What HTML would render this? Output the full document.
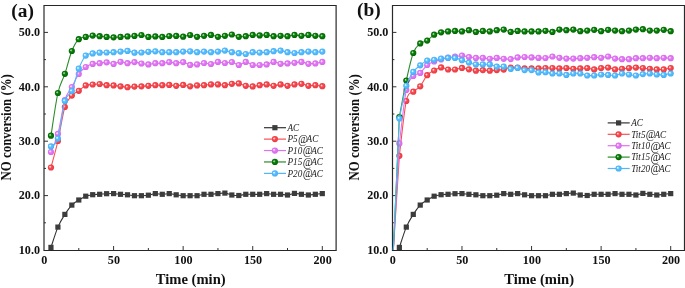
<!DOCTYPE html>
<html><head><meta charset="utf-8"><style>
html,body{margin:0;padding:0;background:#fff;}
body{width:685px;height:288px;overflow:hidden;}
svg{display:block;}
text{filter:grayscale(1);}
.tl{font-family:"Liberation Serif",serif;font-weight:bold;font-size:13.5px;fill:#111;}
.xt{font-family:"Liberation Serif",serif;font-weight:bold;font-size:14.6px;fill:#111;}
.yt{font-family:"Liberation Serif",serif;font-weight:bold;font-size:13.9px;fill:#111;}
.pl{font-family:"Liberation Serif",serif;font-weight:bold;font-size:19.4px;fill:#111;}
.lg{font-family:"Liberation Serif",serif;font-style:italic;font-size:10.5px;fill:#222;}
</style></head><body>
<svg width="685" height="288" viewBox="0 0 685 288">
<defs><radialGradient id="gr" cx="0.5" cy="0.5" r="0.5" fx="0.33" fy="0.35"><stop offset="0" stop-color="#ffdcdc"/><stop offset="0.12" stop-color="#ffdcdc"/><stop offset="0.42" stop-color="#f74c52"/><stop offset="1" stop-color="#ea3840"/></radialGradient><radialGradient id="gm" cx="0.5" cy="0.5" r="0.5" fx="0.33" fy="0.35"><stop offset="0" stop-color="#fbe4ff"/><stop offset="0.12" stop-color="#fbe4ff"/><stop offset="0.42" stop-color="#e47cf4"/><stop offset="1" stop-color="#d566ea"/></radialGradient><radialGradient id="gg" cx="0.5" cy="0.5" r="0.5" fx="0.33" fy="0.35"><stop offset="0" stop-color="#b0d8b0"/><stop offset="0.12" stop-color="#b0d8b0"/><stop offset="0.42" stop-color="#0b820b"/><stop offset="1" stop-color="#006400"/></radialGradient><radialGradient id="gb" cx="0.5" cy="0.5" r="0.5" fx="0.33" fy="0.35"><stop offset="0" stop-color="#e4f6ff"/><stop offset="0.12" stop-color="#e4f6ff"/><stop offset="0.42" stop-color="#5ec0fd"/><stop offset="1" stop-color="#42aef6"/></radialGradient></defs>
<clipPath id="ca"><rect x="44" y="5" width="292.2" height="245"/></clipPath>
<clipPath id="cb"><rect x="392.4" y="5" width="292.2" height="245"/></clipPath>
<line x1="78.79" y1="250.5" x2="78.79" y2="248" stroke="#333" stroke-width="1"/>
<line x1="113.58" y1="250.5" x2="113.58" y2="246" stroke="#333" stroke-width="1"/>
<line x1="148.36" y1="250.5" x2="148.36" y2="248" stroke="#333" stroke-width="1"/>
<line x1="183.15" y1="250.5" x2="183.15" y2="246" stroke="#333" stroke-width="1"/>
<line x1="217.94" y1="250.5" x2="217.94" y2="248" stroke="#333" stroke-width="1"/>
<line x1="252.72" y1="250.5" x2="252.72" y2="246" stroke="#333" stroke-width="1"/>
<line x1="287.51" y1="250.5" x2="287.51" y2="248" stroke="#333" stroke-width="1"/>
<line x1="322.30" y1="250.5" x2="322.30" y2="246" stroke="#333" stroke-width="1"/>
<line x1="44.0" y1="222.80" x2="46.0" y2="222.80" stroke="#333" stroke-width="1"/>
<line x1="44.0" y1="195.60" x2="48.0" y2="195.60" stroke="#333" stroke-width="1"/>
<line x1="44.0" y1="168.40" x2="46.0" y2="168.40" stroke="#333" stroke-width="1"/>
<line x1="44.0" y1="141.20" x2="48.0" y2="141.20" stroke="#333" stroke-width="1"/>
<line x1="44.0" y1="114.00" x2="46.0" y2="114.00" stroke="#333" stroke-width="1"/>
<line x1="44.0" y1="86.80" x2="48.0" y2="86.80" stroke="#333" stroke-width="1"/>
<line x1="44.0" y1="59.60" x2="46.0" y2="59.60" stroke="#333" stroke-width="1"/>
<line x1="44.0" y1="32.40" x2="48.0" y2="32.40" stroke="#333" stroke-width="1"/>
<path d="M44.00,5.5 H336.11 M44.00,250.5 H336.11" stroke="#262626" stroke-width="1.1" fill="none"/>
<path d="M44.00,5 V251 M336.11,5 V251" stroke="#2a2a2a" stroke-width="1.2" fill="none"/>
<text transform="translate(44.30,263.6) scale(0.9,1)" text-anchor="middle" class="tl">0</text>
<text transform="translate(113.88,263.6) scale(0.9,1)" text-anchor="middle" class="tl">50</text>
<text transform="translate(183.45,263.6) scale(0.9,1)" text-anchor="middle" class="tl">100</text>
<text transform="translate(253.03,263.6) scale(0.9,1)" text-anchor="middle" class="tl">150</text>
<text transform="translate(322.60,263.6) scale(0.9,1)" text-anchor="middle" class="tl">200</text>
<text transform="translate(40.00,253.80) scale(0.9,1)" text-anchor="end" class="tl">10.0</text>
<text transform="translate(40.00,199.40) scale(0.9,1)" text-anchor="end" class="tl">20.0</text>
<text transform="translate(40.00,145.00) scale(0.9,1)" text-anchor="end" class="tl">30.0</text>
<text transform="translate(40.00,90.60) scale(0.9,1)" text-anchor="end" class="tl">40.0</text>
<text transform="translate(40.00,36.20) scale(0.9,1)" text-anchor="end" class="tl">50.0</text>
<text x="190.71" y="283.5" text-anchor="middle" class="xt">Time (min)</text>
<text transform="translate(10.70,127.3) rotate(-90) scale(0.925,1)" text-anchor="middle" class="yt">NO conversion (%)</text>
<text transform="translate(22.60,17.20) scale(1,0.92)" text-anchor="middle" class="pl">(a)</text>
<g>
<path d="M50.96,247.40 C52.12,244.02 55.60,232.60 57.91,227.10 C60.23,221.60 62.55,218.07 64.87,214.40 C67.19,210.73 69.51,207.50 71.83,205.10 C74.15,202.70 76.47,201.48 78.79,200.00 C81.11,198.52 83.43,197.08 85.75,196.20 C88.06,195.32 90.38,195.02 92.70,194.70 C95.02,194.38 97.34,194.47 99.66,194.30 C101.98,194.13 104.30,193.82 106.62,193.70 C108.94,193.58 111.26,193.50 113.58,193.60 C115.89,193.70 118.21,194.10 120.53,194.30 C122.85,194.50 125.17,194.57 127.49,194.80 C129.81,195.03 132.13,195.55 134.45,195.70 C136.77,195.85 139.09,195.78 141.41,195.70 C143.72,195.62 146.04,195.55 148.36,195.20 C150.68,194.85 153.00,193.75 155.32,193.60 C157.64,193.45 159.96,194.30 162.28,194.30 C164.60,194.30 166.92,193.52 169.24,193.60 C171.55,193.68 173.87,194.45 176.19,194.80 C178.51,195.15 180.83,195.55 183.15,195.70 C185.47,195.85 187.79,195.70 190.11,195.70 C192.43,195.70 194.75,195.93 197.06,195.70 C199.38,195.47 201.70,194.53 204.02,194.30 C206.34,194.07 208.66,194.42 210.98,194.30 C213.30,194.18 215.62,193.80 217.94,193.60 C220.26,193.40 222.58,192.87 224.89,193.10 C227.21,193.33 229.53,194.60 231.85,195.00 C234.17,195.40 236.49,195.62 238.81,195.50 C241.13,195.38 243.45,194.50 245.77,194.30 C248.09,194.10 250.41,194.30 252.72,194.30 C255.04,194.30 257.36,194.42 259.68,194.30 C262.00,194.18 264.32,193.60 266.64,193.60 C268.96,193.60 271.28,194.18 273.60,194.30 C275.92,194.42 278.24,194.18 280.56,194.30 C282.87,194.42 285.19,195.15 287.51,195.00 C289.83,194.85 292.15,193.52 294.47,193.40 C296.79,193.28 299.11,194.03 301.43,194.30 C303.75,194.57 306.07,195.00 308.38,195.00 C310.70,195.00 313.02,194.53 315.34,194.30 C317.66,194.07 321.14,193.72 322.30,193.60" fill="none" stroke="#333333" stroke-width="1.1" stroke-linejoin="round"/>
<rect x="48.36" y="244.80" width="5.2" height="5.2" fill="#3c3c3c"/>
<rect x="55.31" y="224.50" width="5.2" height="5.2" fill="#3c3c3c"/>
<rect x="62.27" y="211.80" width="5.2" height="5.2" fill="#3c3c3c"/>
<rect x="69.23" y="202.50" width="5.2" height="5.2" fill="#3c3c3c"/>
<rect x="76.19" y="197.40" width="5.2" height="5.2" fill="#3c3c3c"/>
<rect x="83.15" y="193.60" width="5.2" height="5.2" fill="#3c3c3c"/>
<rect x="90.10" y="192.10" width="5.2" height="5.2" fill="#3c3c3c"/>
<rect x="97.06" y="191.70" width="5.2" height="5.2" fill="#3c3c3c"/>
<rect x="104.02" y="191.10" width="5.2" height="5.2" fill="#3c3c3c"/>
<rect x="110.98" y="191.00" width="5.2" height="5.2" fill="#3c3c3c"/>
<rect x="117.93" y="191.70" width="5.2" height="5.2" fill="#3c3c3c"/>
<rect x="124.89" y="192.20" width="5.2" height="5.2" fill="#3c3c3c"/>
<rect x="131.85" y="193.10" width="5.2" height="5.2" fill="#3c3c3c"/>
<rect x="138.81" y="193.10" width="5.2" height="5.2" fill="#3c3c3c"/>
<rect x="145.76" y="192.60" width="5.2" height="5.2" fill="#3c3c3c"/>
<rect x="152.72" y="191.00" width="5.2" height="5.2" fill="#3c3c3c"/>
<rect x="159.68" y="191.70" width="5.2" height="5.2" fill="#3c3c3c"/>
<rect x="166.64" y="191.00" width="5.2" height="5.2" fill="#3c3c3c"/>
<rect x="173.59" y="192.20" width="5.2" height="5.2" fill="#3c3c3c"/>
<rect x="180.55" y="193.10" width="5.2" height="5.2" fill="#3c3c3c"/>
<rect x="187.51" y="193.10" width="5.2" height="5.2" fill="#3c3c3c"/>
<rect x="194.47" y="193.10" width="5.2" height="5.2" fill="#3c3c3c"/>
<rect x="201.42" y="191.70" width="5.2" height="5.2" fill="#3c3c3c"/>
<rect x="208.38" y="191.70" width="5.2" height="5.2" fill="#3c3c3c"/>
<rect x="215.34" y="191.00" width="5.2" height="5.2" fill="#3c3c3c"/>
<rect x="222.29" y="190.50" width="5.2" height="5.2" fill="#3c3c3c"/>
<rect x="229.25" y="192.40" width="5.2" height="5.2" fill="#3c3c3c"/>
<rect x="236.21" y="192.90" width="5.2" height="5.2" fill="#3c3c3c"/>
<rect x="243.17" y="191.70" width="5.2" height="5.2" fill="#3c3c3c"/>
<rect x="250.12" y="191.70" width="5.2" height="5.2" fill="#3c3c3c"/>
<rect x="257.08" y="191.70" width="5.2" height="5.2" fill="#3c3c3c"/>
<rect x="264.04" y="191.00" width="5.2" height="5.2" fill="#3c3c3c"/>
<rect x="271.00" y="191.70" width="5.2" height="5.2" fill="#3c3c3c"/>
<rect x="277.95" y="191.70" width="5.2" height="5.2" fill="#3c3c3c"/>
<rect x="284.91" y="192.40" width="5.2" height="5.2" fill="#3c3c3c"/>
<rect x="291.87" y="190.80" width="5.2" height="5.2" fill="#3c3c3c"/>
<rect x="298.83" y="191.70" width="5.2" height="5.2" fill="#3c3c3c"/>
<rect x="305.78" y="192.40" width="5.2" height="5.2" fill="#3c3c3c"/>
<rect x="312.74" y="191.70" width="5.2" height="5.2" fill="#3c3c3c"/>
<rect x="319.70" y="191.00" width="5.2" height="5.2" fill="#3c3c3c"/>
<path d="M50.96,167.50 C52.12,163.08 55.60,151.08 57.91,141.00 C60.23,130.92 62.55,114.57 64.87,107.00 C67.19,99.43 69.51,98.30 71.83,95.60 C74.15,92.90 76.47,92.50 78.79,90.80 C81.11,89.10 83.43,86.45 85.75,85.40 C88.06,84.35 90.38,84.73 92.70,84.50 C95.02,84.27 97.34,83.88 99.66,84.00 C101.98,84.12 104.30,84.97 106.62,85.20 C108.94,85.43 111.26,85.22 113.58,85.40 C115.89,85.58 118.21,86.00 120.53,86.30 C122.85,86.60 125.17,87.15 127.49,87.20 C129.81,87.25 132.13,86.75 134.45,86.60 C136.77,86.45 139.09,86.43 141.41,86.30 C143.72,86.17 146.04,85.98 148.36,85.80 C150.68,85.62 153.00,85.30 155.32,85.20 C157.64,85.10 159.96,85.25 162.28,85.20 C164.60,85.15 166.92,84.80 169.24,84.90 C171.55,85.00 173.87,85.80 176.19,85.80 C178.51,85.80 180.83,84.82 183.15,84.90 C185.47,84.98 187.79,86.22 190.11,86.30 C192.43,86.38 194.75,85.58 197.06,85.40 C199.38,85.22 201.70,85.37 204.02,85.20 C206.34,85.03 208.66,84.53 210.98,84.40 C213.30,84.27 215.62,84.27 217.94,84.40 C220.26,84.53 222.58,85.30 224.89,85.20 C227.21,85.10 229.53,84.10 231.85,83.80 C234.17,83.50 236.49,83.07 238.81,83.40 C241.13,83.73 243.45,85.30 245.77,85.80 C248.09,86.30 250.41,86.50 252.72,86.40 C255.04,86.30 257.36,85.53 259.68,85.20 C262.00,84.87 264.32,84.30 266.64,84.40 C268.96,84.50 271.28,85.80 273.60,85.80 C275.92,85.80 278.24,84.40 280.56,84.40 C282.87,84.40 285.19,85.80 287.51,85.80 C289.83,85.80 292.15,84.73 294.47,84.40 C296.79,84.07 299.11,83.57 301.43,83.80 C303.75,84.03 306.07,85.57 308.38,85.80 C310.70,86.03 313.02,85.13 315.34,85.20 C317.66,85.27 321.14,86.03 322.30,86.20" fill="none" stroke="#fb4e50" stroke-width="1.1" stroke-linejoin="round"/>
<circle cx="50.96" cy="167.50" r="3.1" fill="url(#gr)"/>
<circle cx="57.91" cy="141.00" r="3.1" fill="url(#gr)"/>
<circle cx="64.87" cy="107.00" r="3.1" fill="url(#gr)"/>
<circle cx="71.83" cy="95.60" r="3.1" fill="url(#gr)"/>
<circle cx="78.79" cy="90.80" r="3.1" fill="url(#gr)"/>
<circle cx="85.75" cy="85.40" r="3.1" fill="url(#gr)"/>
<circle cx="92.70" cy="84.50" r="3.1" fill="url(#gr)"/>
<circle cx="99.66" cy="84.00" r="3.1" fill="url(#gr)"/>
<circle cx="106.62" cy="85.20" r="3.1" fill="url(#gr)"/>
<circle cx="113.58" cy="85.40" r="3.1" fill="url(#gr)"/>
<circle cx="120.53" cy="86.30" r="3.1" fill="url(#gr)"/>
<circle cx="127.49" cy="87.20" r="3.1" fill="url(#gr)"/>
<circle cx="134.45" cy="86.60" r="3.1" fill="url(#gr)"/>
<circle cx="141.41" cy="86.30" r="3.1" fill="url(#gr)"/>
<circle cx="148.36" cy="85.80" r="3.1" fill="url(#gr)"/>
<circle cx="155.32" cy="85.20" r="3.1" fill="url(#gr)"/>
<circle cx="162.28" cy="85.20" r="3.1" fill="url(#gr)"/>
<circle cx="169.24" cy="84.90" r="3.1" fill="url(#gr)"/>
<circle cx="176.19" cy="85.80" r="3.1" fill="url(#gr)"/>
<circle cx="183.15" cy="84.90" r="3.1" fill="url(#gr)"/>
<circle cx="190.11" cy="86.30" r="3.1" fill="url(#gr)"/>
<circle cx="197.06" cy="85.40" r="3.1" fill="url(#gr)"/>
<circle cx="204.02" cy="85.20" r="3.1" fill="url(#gr)"/>
<circle cx="210.98" cy="84.40" r="3.1" fill="url(#gr)"/>
<circle cx="217.94" cy="84.40" r="3.1" fill="url(#gr)"/>
<circle cx="224.89" cy="85.20" r="3.1" fill="url(#gr)"/>
<circle cx="231.85" cy="83.80" r="3.1" fill="url(#gr)"/>
<circle cx="238.81" cy="83.40" r="3.1" fill="url(#gr)"/>
<circle cx="245.77" cy="85.80" r="3.1" fill="url(#gr)"/>
<circle cx="252.72" cy="86.40" r="3.1" fill="url(#gr)"/>
<circle cx="259.68" cy="85.20" r="3.1" fill="url(#gr)"/>
<circle cx="266.64" cy="84.40" r="3.1" fill="url(#gr)"/>
<circle cx="273.60" cy="85.80" r="3.1" fill="url(#gr)"/>
<circle cx="280.56" cy="84.40" r="3.1" fill="url(#gr)"/>
<circle cx="287.51" cy="85.80" r="3.1" fill="url(#gr)"/>
<circle cx="294.47" cy="84.40" r="3.1" fill="url(#gr)"/>
<circle cx="301.43" cy="83.80" r="3.1" fill="url(#gr)"/>
<circle cx="308.38" cy="85.80" r="3.1" fill="url(#gr)"/>
<circle cx="315.34" cy="85.20" r="3.1" fill="url(#gr)"/>
<circle cx="322.30" cy="86.20" r="3.1" fill="url(#gr)"/>
<path d="M50.96,152.00 C52.12,148.98 55.60,142.57 57.91,133.90 C60.23,125.23 62.55,107.82 64.87,100.00 C67.19,92.18 69.51,91.33 71.83,87.00 C74.15,82.67 76.47,77.33 78.79,74.00 C81.11,70.67 83.43,68.68 85.75,67.00 C88.06,65.32 90.38,64.53 92.70,63.90 C95.02,63.27 97.34,63.47 99.66,63.20 C101.98,62.93 104.30,62.18 106.62,62.30 C108.94,62.42 111.26,63.98 113.58,63.90 C115.89,63.82 118.21,61.92 120.53,61.80 C122.85,61.68 125.17,63.15 127.49,63.20 C129.81,63.25 132.13,62.05 134.45,62.10 C136.77,62.15 139.09,63.12 141.41,63.50 C143.72,63.88 146.04,64.45 148.36,64.40 C150.68,64.35 153.00,63.40 155.32,63.20 C157.64,63.00 159.96,63.38 162.28,63.20 C164.60,63.02 166.92,62.10 169.24,62.10 C171.55,62.10 173.87,63.20 176.19,63.20 C178.51,63.20 180.83,61.82 183.15,62.10 C185.47,62.38 187.79,64.52 190.11,64.90 C192.43,65.28 194.75,64.72 197.06,64.40 C199.38,64.08 201.70,63.07 204.02,63.00 C206.34,62.93 208.66,64.18 210.98,64.00 C213.30,63.82 215.62,62.07 217.94,61.90 C220.26,61.73 222.58,62.98 224.89,63.00 C227.21,63.02 229.53,61.67 231.85,62.00 C234.17,62.33 236.49,65.02 238.81,65.00 C241.13,64.98 243.45,61.90 245.77,61.90 C248.09,61.90 250.41,64.48 252.72,65.00 C255.04,65.52 257.36,65.10 259.68,65.00 C262.00,64.90 264.32,64.92 266.64,64.40 C268.96,63.88 271.28,62.00 273.60,61.90 C275.92,61.80 278.24,63.55 280.56,63.80 C282.87,64.05 285.19,63.57 287.51,63.40 C289.83,63.23 292.15,63.05 294.47,62.80 C296.79,62.55 299.11,61.73 301.43,61.90 C303.75,62.07 306.07,63.55 308.38,63.80 C310.70,64.05 313.02,63.72 315.34,63.40 C317.66,63.08 321.14,62.15 322.30,61.90" fill="none" stroke="#e070f2" stroke-width="1.1" stroke-linejoin="round"/>
<circle cx="50.96" cy="152.00" r="3.1" fill="url(#gm)"/>
<circle cx="57.91" cy="133.90" r="3.1" fill="url(#gm)"/>
<circle cx="64.87" cy="100.00" r="3.1" fill="url(#gm)"/>
<circle cx="71.83" cy="87.00" r="3.1" fill="url(#gm)"/>
<circle cx="78.79" cy="74.00" r="3.1" fill="url(#gm)"/>
<circle cx="85.75" cy="67.00" r="3.1" fill="url(#gm)"/>
<circle cx="92.70" cy="63.90" r="3.1" fill="url(#gm)"/>
<circle cx="99.66" cy="63.20" r="3.1" fill="url(#gm)"/>
<circle cx="106.62" cy="62.30" r="3.1" fill="url(#gm)"/>
<circle cx="113.58" cy="63.90" r="3.1" fill="url(#gm)"/>
<circle cx="120.53" cy="61.80" r="3.1" fill="url(#gm)"/>
<circle cx="127.49" cy="63.20" r="3.1" fill="url(#gm)"/>
<circle cx="134.45" cy="62.10" r="3.1" fill="url(#gm)"/>
<circle cx="141.41" cy="63.50" r="3.1" fill="url(#gm)"/>
<circle cx="148.36" cy="64.40" r="3.1" fill="url(#gm)"/>
<circle cx="155.32" cy="63.20" r="3.1" fill="url(#gm)"/>
<circle cx="162.28" cy="63.20" r="3.1" fill="url(#gm)"/>
<circle cx="169.24" cy="62.10" r="3.1" fill="url(#gm)"/>
<circle cx="176.19" cy="63.20" r="3.1" fill="url(#gm)"/>
<circle cx="183.15" cy="62.10" r="3.1" fill="url(#gm)"/>
<circle cx="190.11" cy="64.90" r="3.1" fill="url(#gm)"/>
<circle cx="197.06" cy="64.40" r="3.1" fill="url(#gm)"/>
<circle cx="204.02" cy="63.00" r="3.1" fill="url(#gm)"/>
<circle cx="210.98" cy="64.00" r="3.1" fill="url(#gm)"/>
<circle cx="217.94" cy="61.90" r="3.1" fill="url(#gm)"/>
<circle cx="224.89" cy="63.00" r="3.1" fill="url(#gm)"/>
<circle cx="231.85" cy="62.00" r="3.1" fill="url(#gm)"/>
<circle cx="238.81" cy="65.00" r="3.1" fill="url(#gm)"/>
<circle cx="245.77" cy="61.90" r="3.1" fill="url(#gm)"/>
<circle cx="252.72" cy="65.00" r="3.1" fill="url(#gm)"/>
<circle cx="259.68" cy="65.00" r="3.1" fill="url(#gm)"/>
<circle cx="266.64" cy="64.40" r="3.1" fill="url(#gm)"/>
<circle cx="273.60" cy="61.90" r="3.1" fill="url(#gm)"/>
<circle cx="280.56" cy="63.80" r="3.1" fill="url(#gm)"/>
<circle cx="287.51" cy="63.40" r="3.1" fill="url(#gm)"/>
<circle cx="294.47" cy="62.80" r="3.1" fill="url(#gm)"/>
<circle cx="301.43" cy="61.90" r="3.1" fill="url(#gm)"/>
<circle cx="308.38" cy="63.80" r="3.1" fill="url(#gm)"/>
<circle cx="315.34" cy="63.40" r="3.1" fill="url(#gm)"/>
<circle cx="322.30" cy="61.90" r="3.1" fill="url(#gm)"/>
<path d="M50.96,135.70 C52.12,128.58 55.60,103.32 57.91,93.00 C60.23,82.68 62.55,80.80 64.87,73.80 C67.19,66.80 69.51,56.77 71.83,51.00 C74.15,45.23 76.47,41.55 78.79,39.20 C81.11,36.85 83.43,37.50 85.75,36.90 C88.06,36.30 90.38,35.72 92.70,35.60 C95.02,35.48 97.34,35.98 99.66,36.20 C101.98,36.42 104.30,36.72 106.62,36.90 C108.94,37.08 111.26,37.30 113.58,37.30 C115.89,37.30 118.21,37.05 120.53,36.90 C122.85,36.75 125.17,36.57 127.49,36.40 C129.81,36.23 132.13,36.13 134.45,35.90 C136.77,35.67 139.09,34.83 141.41,35.00 C143.72,35.17 146.04,36.67 148.36,36.90 C150.68,37.13 153.00,36.40 155.32,36.40 C157.64,36.40 159.96,36.97 162.28,36.90 C164.60,36.83 166.92,36.17 169.24,36.00 C171.55,35.83 173.87,35.78 176.19,35.90 C178.51,36.02 180.83,36.85 183.15,36.70 C185.47,36.55 187.79,34.98 190.11,35.00 C192.43,35.02 194.75,36.67 197.06,36.80 C199.38,36.93 201.70,36.12 204.02,35.80 C206.34,35.48 208.66,34.73 210.98,34.90 C213.30,35.07 215.62,36.65 217.94,36.80 C220.26,36.95 222.58,36.18 224.89,35.80 C227.21,35.42 229.53,34.33 231.85,34.50 C234.17,34.67 236.49,36.52 238.81,36.80 C241.13,37.08 243.45,36.52 245.77,36.20 C248.09,35.88 250.41,35.03 252.72,34.90 C255.04,34.77 257.36,35.40 259.68,35.40 C262.00,35.40 264.32,34.77 266.64,34.90 C268.96,35.03 271.28,36.05 273.60,36.20 C275.92,36.35 278.24,35.80 280.56,35.80 C282.87,35.80 285.19,36.35 287.51,36.20 C289.83,36.05 292.15,34.97 294.47,34.90 C296.79,34.83 299.11,35.80 301.43,35.80 C303.75,35.80 306.07,34.90 308.38,34.90 C310.70,34.90 313.02,35.58 315.34,35.80 C317.66,36.02 321.14,36.13 322.30,36.20" fill="none" stroke="#2a8c2a" stroke-width="1.1" stroke-linejoin="round"/>
<circle cx="50.96" cy="135.70" r="3.1" fill="url(#gg)"/>
<circle cx="57.91" cy="93.00" r="3.1" fill="url(#gg)"/>
<circle cx="64.87" cy="73.80" r="3.1" fill="url(#gg)"/>
<circle cx="71.83" cy="51.00" r="3.1" fill="url(#gg)"/>
<circle cx="78.79" cy="39.20" r="3.1" fill="url(#gg)"/>
<circle cx="85.75" cy="36.90" r="3.1" fill="url(#gg)"/>
<circle cx="92.70" cy="35.60" r="3.1" fill="url(#gg)"/>
<circle cx="99.66" cy="36.20" r="3.1" fill="url(#gg)"/>
<circle cx="106.62" cy="36.90" r="3.1" fill="url(#gg)"/>
<circle cx="113.58" cy="37.30" r="3.1" fill="url(#gg)"/>
<circle cx="120.53" cy="36.90" r="3.1" fill="url(#gg)"/>
<circle cx="127.49" cy="36.40" r="3.1" fill="url(#gg)"/>
<circle cx="134.45" cy="35.90" r="3.1" fill="url(#gg)"/>
<circle cx="141.41" cy="35.00" r="3.1" fill="url(#gg)"/>
<circle cx="148.36" cy="36.90" r="3.1" fill="url(#gg)"/>
<circle cx="155.32" cy="36.40" r="3.1" fill="url(#gg)"/>
<circle cx="162.28" cy="36.90" r="3.1" fill="url(#gg)"/>
<circle cx="169.24" cy="36.00" r="3.1" fill="url(#gg)"/>
<circle cx="176.19" cy="35.90" r="3.1" fill="url(#gg)"/>
<circle cx="183.15" cy="36.70" r="3.1" fill="url(#gg)"/>
<circle cx="190.11" cy="35.00" r="3.1" fill="url(#gg)"/>
<circle cx="197.06" cy="36.80" r="3.1" fill="url(#gg)"/>
<circle cx="204.02" cy="35.80" r="3.1" fill="url(#gg)"/>
<circle cx="210.98" cy="34.90" r="3.1" fill="url(#gg)"/>
<circle cx="217.94" cy="36.80" r="3.1" fill="url(#gg)"/>
<circle cx="224.89" cy="35.80" r="3.1" fill="url(#gg)"/>
<circle cx="231.85" cy="34.50" r="3.1" fill="url(#gg)"/>
<circle cx="238.81" cy="36.80" r="3.1" fill="url(#gg)"/>
<circle cx="245.77" cy="36.20" r="3.1" fill="url(#gg)"/>
<circle cx="252.72" cy="34.90" r="3.1" fill="url(#gg)"/>
<circle cx="259.68" cy="35.40" r="3.1" fill="url(#gg)"/>
<circle cx="266.64" cy="34.90" r="3.1" fill="url(#gg)"/>
<circle cx="273.60" cy="36.20" r="3.1" fill="url(#gg)"/>
<circle cx="280.56" cy="35.80" r="3.1" fill="url(#gg)"/>
<circle cx="287.51" cy="36.20" r="3.1" fill="url(#gg)"/>
<circle cx="294.47" cy="34.90" r="3.1" fill="url(#gg)"/>
<circle cx="301.43" cy="35.80" r="3.1" fill="url(#gg)"/>
<circle cx="308.38" cy="34.90" r="3.1" fill="url(#gg)"/>
<circle cx="315.34" cy="35.80" r="3.1" fill="url(#gg)"/>
<circle cx="322.30" cy="36.20" r="3.1" fill="url(#gg)"/>
<path d="M50.96,146.40 C52.12,145.08 55.60,146.08 57.91,138.50 C60.23,130.92 62.55,108.82 64.87,100.90 C67.19,92.98 69.51,96.37 71.83,91.00 C74.15,85.63 76.47,74.60 78.79,68.70 C81.11,62.80 83.43,58.15 85.75,55.60 C88.06,53.05 90.38,53.88 92.70,53.40 C95.02,52.92 97.34,52.85 99.66,52.70 C101.98,52.55 104.30,52.58 106.62,52.50 C108.94,52.42 111.26,52.35 113.58,52.20 C115.89,52.05 118.21,51.82 120.53,51.60 C122.85,51.38 125.17,50.72 127.49,50.90 C129.81,51.08 132.13,52.43 134.45,52.70 C136.77,52.97 139.09,52.65 141.41,52.50 C143.72,52.35 146.04,52.00 148.36,51.80 C150.68,51.60 153.00,51.23 155.32,51.30 C157.64,51.37 159.96,52.05 162.28,52.20 C164.60,52.35 166.92,52.20 169.24,52.20 C171.55,52.20 173.87,52.30 176.19,52.20 C178.51,52.10 180.83,51.75 183.15,51.60 C185.47,51.45 187.79,51.20 190.11,51.30 C192.43,51.40 194.75,52.15 197.06,52.20 C199.38,52.25 201.70,51.60 204.02,51.60 C206.34,51.60 208.66,52.20 210.98,52.20 C213.30,52.20 215.62,51.87 217.94,51.60 C220.26,51.33 222.58,50.50 224.89,50.60 C227.21,50.70 229.53,51.77 231.85,52.20 C234.17,52.63 236.49,52.90 238.81,53.20 C241.13,53.50 243.45,54.17 245.77,54.00 C248.09,53.83 250.41,52.43 252.72,52.20 C255.04,51.97 257.36,52.60 259.68,52.60 C262.00,52.60 264.32,52.43 266.64,52.20 C268.96,51.97 271.28,51.47 273.60,51.20 C275.92,50.93 278.24,50.43 280.56,50.60 C282.87,50.77 285.19,51.80 287.51,52.20 C289.83,52.60 292.15,53.00 294.47,53.00 C296.79,53.00 299.11,52.43 301.43,52.20 C303.75,51.97 306.07,51.60 308.38,51.60 C310.70,51.60 313.02,52.20 315.34,52.20 C317.66,52.20 321.14,51.70 322.30,51.60" fill="none" stroke="#50b8fa" stroke-width="1.1" stroke-linejoin="round"/>
<circle cx="50.96" cy="146.40" r="3.1" fill="url(#gb)"/>
<circle cx="57.91" cy="138.50" r="3.1" fill="url(#gb)"/>
<circle cx="64.87" cy="100.90" r="3.1" fill="url(#gb)"/>
<circle cx="71.83" cy="91.00" r="3.1" fill="url(#gb)"/>
<circle cx="78.79" cy="68.70" r="3.1" fill="url(#gb)"/>
<circle cx="85.75" cy="55.60" r="3.1" fill="url(#gb)"/>
<circle cx="92.70" cy="53.40" r="3.1" fill="url(#gb)"/>
<circle cx="99.66" cy="52.70" r="3.1" fill="url(#gb)"/>
<circle cx="106.62" cy="52.50" r="3.1" fill="url(#gb)"/>
<circle cx="113.58" cy="52.20" r="3.1" fill="url(#gb)"/>
<circle cx="120.53" cy="51.60" r="3.1" fill="url(#gb)"/>
<circle cx="127.49" cy="50.90" r="3.1" fill="url(#gb)"/>
<circle cx="134.45" cy="52.70" r="3.1" fill="url(#gb)"/>
<circle cx="141.41" cy="52.50" r="3.1" fill="url(#gb)"/>
<circle cx="148.36" cy="51.80" r="3.1" fill="url(#gb)"/>
<circle cx="155.32" cy="51.30" r="3.1" fill="url(#gb)"/>
<circle cx="162.28" cy="52.20" r="3.1" fill="url(#gb)"/>
<circle cx="169.24" cy="52.20" r="3.1" fill="url(#gb)"/>
<circle cx="176.19" cy="52.20" r="3.1" fill="url(#gb)"/>
<circle cx="183.15" cy="51.60" r="3.1" fill="url(#gb)"/>
<circle cx="190.11" cy="51.30" r="3.1" fill="url(#gb)"/>
<circle cx="197.06" cy="52.20" r="3.1" fill="url(#gb)"/>
<circle cx="204.02" cy="51.60" r="3.1" fill="url(#gb)"/>
<circle cx="210.98" cy="52.20" r="3.1" fill="url(#gb)"/>
<circle cx="217.94" cy="51.60" r="3.1" fill="url(#gb)"/>
<circle cx="224.89" cy="50.60" r="3.1" fill="url(#gb)"/>
<circle cx="231.85" cy="52.20" r="3.1" fill="url(#gb)"/>
<circle cx="238.81" cy="53.20" r="3.1" fill="url(#gb)"/>
<circle cx="245.77" cy="54.00" r="3.1" fill="url(#gb)"/>
<circle cx="252.72" cy="52.20" r="3.1" fill="url(#gb)"/>
<circle cx="259.68" cy="52.60" r="3.1" fill="url(#gb)"/>
<circle cx="266.64" cy="52.20" r="3.1" fill="url(#gb)"/>
<circle cx="273.60" cy="51.20" r="3.1" fill="url(#gb)"/>
<circle cx="280.56" cy="50.60" r="3.1" fill="url(#gb)"/>
<circle cx="287.51" cy="52.20" r="3.1" fill="url(#gb)"/>
<circle cx="294.47" cy="53.00" r="3.1" fill="url(#gb)"/>
<circle cx="301.43" cy="52.20" r="3.1" fill="url(#gb)"/>
<circle cx="308.38" cy="51.60" r="3.1" fill="url(#gb)"/>
<circle cx="315.34" cy="52.20" r="3.1" fill="url(#gb)"/>
<circle cx="322.30" cy="51.60" r="3.1" fill="url(#gb)"/>
</g>
<line x1="264.00" y1="127.70" x2="286.00" y2="127.70" stroke="#333333" stroke-width="1.2"/>
<rect x="272.30" y="125.10" width="5.2" height="5.2" fill="#3c3c3c"/>
<text transform="translate(287.50,131.00) scale(0.875,1)" class="lg">AC</text>
<line x1="264.00" y1="139.12" x2="286.00" y2="139.12" stroke="#fb4e50" stroke-width="1.2"/>
<circle cx="274.90" cy="139.12" r="3.1" fill="url(#gr)"/>
<text transform="translate(287.50,142.42) scale(0.875,1)" class="lg">P5<tspan font-size="12.3" dy="0.5" dx="0.4">@</tspan><tspan dy="-0.5" dx="-1.5">AC</tspan></text>
<line x1="264.00" y1="150.54" x2="286.00" y2="150.54" stroke="#e070f2" stroke-width="1.2"/>
<circle cx="274.90" cy="150.54" r="3.1" fill="url(#gm)"/>
<text transform="translate(287.50,153.84) scale(0.875,1)" class="lg">P10<tspan font-size="12.3" dy="0.5" dx="0.4">@</tspan><tspan dy="-0.5" dx="-1.5">AC</tspan></text>
<line x1="264.00" y1="161.96" x2="286.00" y2="161.96" stroke="#2a8c2a" stroke-width="1.2"/>
<circle cx="274.90" cy="161.96" r="3.1" fill="url(#gg)"/>
<text transform="translate(287.50,165.26) scale(0.875,1)" class="lg">P15<tspan font-size="12.3" dy="0.5" dx="0.4">@</tspan><tspan dy="-0.5" dx="-1.5">AC</tspan></text>
<line x1="264.00" y1="173.38" x2="286.00" y2="173.38" stroke="#50b8fa" stroke-width="1.2"/>
<circle cx="274.90" cy="173.38" r="3.1" fill="url(#gb)"/>
<text transform="translate(287.50,176.68) scale(0.875,1)" class="lg">P20<tspan font-size="12.3" dy="0.5" dx="0.4">@</tspan><tspan dy="-0.5" dx="-1.5">AC</tspan></text>
<line x1="427.19" y1="250.5" x2="427.19" y2="248" stroke="#333" stroke-width="1"/>
<line x1="461.97" y1="250.5" x2="461.97" y2="246" stroke="#333" stroke-width="1"/>
<line x1="496.76" y1="250.5" x2="496.76" y2="248" stroke="#333" stroke-width="1"/>
<line x1="531.55" y1="250.5" x2="531.55" y2="246" stroke="#333" stroke-width="1"/>
<line x1="566.34" y1="250.5" x2="566.34" y2="248" stroke="#333" stroke-width="1"/>
<line x1="601.12" y1="250.5" x2="601.12" y2="246" stroke="#333" stroke-width="1"/>
<line x1="635.91" y1="250.5" x2="635.91" y2="248" stroke="#333" stroke-width="1"/>
<line x1="670.70" y1="250.5" x2="670.70" y2="246" stroke="#333" stroke-width="1"/>
<line x1="392.4" y1="222.80" x2="394.4" y2="222.80" stroke="#333" stroke-width="1"/>
<line x1="392.4" y1="195.60" x2="396.4" y2="195.60" stroke="#333" stroke-width="1"/>
<line x1="392.4" y1="168.40" x2="394.4" y2="168.40" stroke="#333" stroke-width="1"/>
<line x1="392.4" y1="141.20" x2="396.4" y2="141.20" stroke="#333" stroke-width="1"/>
<line x1="392.4" y1="114.00" x2="394.4" y2="114.00" stroke="#333" stroke-width="1"/>
<line x1="392.4" y1="86.80" x2="396.4" y2="86.80" stroke="#333" stroke-width="1"/>
<line x1="392.4" y1="59.60" x2="394.4" y2="59.60" stroke="#333" stroke-width="1"/>
<line x1="392.4" y1="32.40" x2="396.4" y2="32.40" stroke="#333" stroke-width="1"/>
<path d="M392.50,5.5 H684.50 M392.50,250.5 H684.50" stroke="#262626" stroke-width="1.1" fill="none"/>
<path d="M392.50,5 V251 M684.50,5 V251" stroke="#2a2a2a" stroke-width="1.2" fill="none"/>
<text transform="translate(392.70,263.6) scale(0.9,1)" text-anchor="middle" class="tl">0</text>
<text transform="translate(462.27,263.6) scale(0.9,1)" text-anchor="middle" class="tl">50</text>
<text transform="translate(531.85,263.6) scale(0.9,1)" text-anchor="middle" class="tl">100</text>
<text transform="translate(601.42,263.6) scale(0.9,1)" text-anchor="middle" class="tl">150</text>
<text transform="translate(671.00,263.6) scale(0.9,1)" text-anchor="middle" class="tl">200</text>
<text transform="translate(388.40,253.80) scale(0.9,1)" text-anchor="end" class="tl">10.0</text>
<text transform="translate(388.40,199.40) scale(0.9,1)" text-anchor="end" class="tl">20.0</text>
<text transform="translate(388.40,145.00) scale(0.9,1)" text-anchor="end" class="tl">30.0</text>
<text transform="translate(388.40,90.60) scale(0.9,1)" text-anchor="end" class="tl">40.0</text>
<text transform="translate(388.40,36.20) scale(0.9,1)" text-anchor="end" class="tl">50.0</text>
<text x="539.11" y="283.5" text-anchor="middle" class="xt">Time (min)</text>
<text transform="translate(359.10,127.3) rotate(-90) scale(0.925,1)" text-anchor="middle" class="yt">NO conversion (%)</text>
<text transform="translate(368.80,15.90) scale(1,0.92)" text-anchor="middle" class="pl">(b)</text>
<g clip-path="url(#cb)">
<path d="M399.36,247.40 C400.52,244.02 404.00,232.60 406.31,227.10 C408.63,221.60 410.95,218.07 413.27,214.40 C415.59,210.73 417.91,207.50 420.23,205.10 C422.55,202.70 424.87,201.48 427.19,200.00 C429.51,198.52 431.83,197.08 434.14,196.20 C436.46,195.32 438.78,195.02 441.10,194.70 C443.42,194.38 445.74,194.47 448.06,194.30 C450.38,194.13 452.70,193.82 455.02,193.70 C457.34,193.58 459.66,193.50 461.97,193.60 C464.29,193.70 466.61,194.10 468.93,194.30 C471.25,194.50 473.57,194.57 475.89,194.80 C478.21,195.03 480.53,195.55 482.85,195.70 C485.17,195.85 487.49,195.78 489.80,195.70 C492.12,195.62 494.44,195.55 496.76,195.20 C499.08,194.85 501.40,193.75 503.72,193.60 C506.04,193.45 508.36,194.30 510.68,194.30 C513.00,194.30 515.32,193.52 517.63,193.60 C519.95,193.68 522.27,194.45 524.59,194.80 C526.91,195.15 529.23,195.55 531.55,195.70 C533.87,195.85 536.19,195.70 538.51,195.70 C540.83,195.70 543.15,195.93 545.46,195.70 C547.78,195.47 550.10,194.53 552.42,194.30 C554.74,194.07 557.06,194.42 559.38,194.30 C561.70,194.18 564.02,193.80 566.34,193.60 C568.66,193.40 570.98,192.87 573.29,193.10 C575.61,193.33 577.93,194.60 580.25,195.00 C582.57,195.40 584.89,195.62 587.21,195.50 C589.53,195.38 591.85,194.50 594.17,194.30 C596.49,194.10 598.81,194.30 601.12,194.30 C603.44,194.30 605.76,194.42 608.08,194.30 C610.40,194.18 612.72,193.60 615.04,193.60 C617.36,193.60 619.68,194.18 622.00,194.30 C624.32,194.42 626.64,194.18 628.95,194.30 C631.27,194.42 633.59,195.15 635.91,195.00 C638.23,194.85 640.55,193.52 642.87,193.40 C645.19,193.28 647.51,194.03 649.83,194.30 C652.15,194.57 654.47,195.00 656.78,195.00 C659.10,195.00 661.42,194.53 663.74,194.30 C666.06,194.07 669.54,193.72 670.70,193.60" fill="none" stroke="#333333" stroke-width="1.1" stroke-linejoin="round"/>
<rect x="396.76" y="244.80" width="5.2" height="5.2" fill="#3c3c3c"/>
<rect x="403.71" y="224.50" width="5.2" height="5.2" fill="#3c3c3c"/>
<rect x="410.67" y="211.80" width="5.2" height="5.2" fill="#3c3c3c"/>
<rect x="417.63" y="202.50" width="5.2" height="5.2" fill="#3c3c3c"/>
<rect x="424.59" y="197.40" width="5.2" height="5.2" fill="#3c3c3c"/>
<rect x="431.54" y="193.60" width="5.2" height="5.2" fill="#3c3c3c"/>
<rect x="438.50" y="192.10" width="5.2" height="5.2" fill="#3c3c3c"/>
<rect x="445.46" y="191.70" width="5.2" height="5.2" fill="#3c3c3c"/>
<rect x="452.42" y="191.10" width="5.2" height="5.2" fill="#3c3c3c"/>
<rect x="459.37" y="191.00" width="5.2" height="5.2" fill="#3c3c3c"/>
<rect x="466.33" y="191.70" width="5.2" height="5.2" fill="#3c3c3c"/>
<rect x="473.29" y="192.20" width="5.2" height="5.2" fill="#3c3c3c"/>
<rect x="480.25" y="193.10" width="5.2" height="5.2" fill="#3c3c3c"/>
<rect x="487.20" y="193.10" width="5.2" height="5.2" fill="#3c3c3c"/>
<rect x="494.16" y="192.60" width="5.2" height="5.2" fill="#3c3c3c"/>
<rect x="501.12" y="191.00" width="5.2" height="5.2" fill="#3c3c3c"/>
<rect x="508.08" y="191.70" width="5.2" height="5.2" fill="#3c3c3c"/>
<rect x="515.03" y="191.00" width="5.2" height="5.2" fill="#3c3c3c"/>
<rect x="521.99" y="192.20" width="5.2" height="5.2" fill="#3c3c3c"/>
<rect x="528.95" y="193.10" width="5.2" height="5.2" fill="#3c3c3c"/>
<rect x="535.91" y="193.10" width="5.2" height="5.2" fill="#3c3c3c"/>
<rect x="542.86" y="193.10" width="5.2" height="5.2" fill="#3c3c3c"/>
<rect x="549.82" y="191.70" width="5.2" height="5.2" fill="#3c3c3c"/>
<rect x="556.78" y="191.70" width="5.2" height="5.2" fill="#3c3c3c"/>
<rect x="563.74" y="191.00" width="5.2" height="5.2" fill="#3c3c3c"/>
<rect x="570.69" y="190.50" width="5.2" height="5.2" fill="#3c3c3c"/>
<rect x="577.65" y="192.40" width="5.2" height="5.2" fill="#3c3c3c"/>
<rect x="584.61" y="192.90" width="5.2" height="5.2" fill="#3c3c3c"/>
<rect x="591.57" y="191.70" width="5.2" height="5.2" fill="#3c3c3c"/>
<rect x="598.52" y="191.70" width="5.2" height="5.2" fill="#3c3c3c"/>
<rect x="605.48" y="191.70" width="5.2" height="5.2" fill="#3c3c3c"/>
<rect x="612.44" y="191.00" width="5.2" height="5.2" fill="#3c3c3c"/>
<rect x="619.40" y="191.70" width="5.2" height="5.2" fill="#3c3c3c"/>
<rect x="626.35" y="191.70" width="5.2" height="5.2" fill="#3c3c3c"/>
<rect x="633.31" y="192.40" width="5.2" height="5.2" fill="#3c3c3c"/>
<rect x="640.27" y="190.80" width="5.2" height="5.2" fill="#3c3c3c"/>
<rect x="647.23" y="191.70" width="5.2" height="5.2" fill="#3c3c3c"/>
<rect x="654.18" y="192.40" width="5.2" height="5.2" fill="#3c3c3c"/>
<rect x="661.14" y="191.70" width="5.2" height="5.2" fill="#3c3c3c"/>
<rect x="668.10" y="191.00" width="5.2" height="5.2" fill="#3c3c3c"/>
<path d="M393.30,250.50 L399.36,155.80 C400.52,146.67 404.00,111.68 406.31,101.00 C408.63,90.32 410.95,94.15 413.27,91.70 C415.59,89.25 417.91,89.05 420.23,86.30 C422.55,83.55 424.87,77.83 427.19,75.20 C429.51,72.57 431.83,71.80 434.14,70.50 C436.46,69.20 438.78,67.57 441.10,67.40 C443.42,67.23 445.74,69.15 448.06,69.50 C450.38,69.85 452.70,69.77 455.02,69.50 C457.34,69.23 459.66,67.93 461.97,67.90 C464.29,67.87 466.61,68.83 468.93,69.30 C471.25,69.77 473.57,70.57 475.89,70.70 C478.21,70.83 480.53,70.10 482.85,70.10 C485.17,70.10 487.49,70.70 489.80,70.70 C492.12,70.70 494.44,70.28 496.76,70.10 C499.08,69.92 501.40,70.03 503.72,69.60 C506.04,69.17 508.36,67.85 510.68,67.50 C513.00,67.15 515.32,67.35 517.63,67.50 C519.95,67.65 522.27,68.25 524.59,68.40 C526.91,68.55 529.23,68.40 531.55,68.40 C533.87,68.40 536.19,68.47 538.51,68.40 C540.83,68.33 543.15,68.07 545.46,68.00 C547.78,67.93 550.10,67.93 552.42,68.00 C554.74,68.07 557.06,68.40 559.38,68.40 C561.70,68.40 564.02,67.93 566.34,68.00 C568.66,68.07 570.98,68.73 573.29,68.80 C575.61,68.87 577.93,68.53 580.25,68.40 C582.57,68.27 584.89,67.83 587.21,68.00 C589.53,68.17 591.85,69.40 594.17,69.40 C596.49,69.40 598.81,68.30 601.12,68.00 C603.44,67.70 605.76,67.37 608.08,67.60 C610.40,67.83 612.72,69.20 615.04,69.40 C617.36,69.60 619.68,69.03 622.00,68.80 C624.32,68.57 626.64,68.20 628.95,68.00 C631.27,67.80 633.59,67.60 635.91,67.60 C638.23,67.60 640.55,67.80 642.87,68.00 C645.19,68.20 647.51,68.57 649.83,68.80 C652.15,69.03 654.47,69.30 656.78,69.40 C659.10,69.50 661.42,69.63 663.74,69.40 C666.06,69.17 669.54,68.23 670.70,68.00" fill="none" stroke="#fb4e50" stroke-width="1.1" stroke-linejoin="round"/>
<circle cx="399.36" cy="155.80" r="3.1" fill="url(#gr)"/>
<circle cx="406.31" cy="101.00" r="3.1" fill="url(#gr)"/>
<circle cx="413.27" cy="91.70" r="3.1" fill="url(#gr)"/>
<circle cx="420.23" cy="86.30" r="3.1" fill="url(#gr)"/>
<circle cx="427.19" cy="75.20" r="3.1" fill="url(#gr)"/>
<circle cx="434.14" cy="70.50" r="3.1" fill="url(#gr)"/>
<circle cx="441.10" cy="67.40" r="3.1" fill="url(#gr)"/>
<circle cx="448.06" cy="69.50" r="3.1" fill="url(#gr)"/>
<circle cx="455.02" cy="69.50" r="3.1" fill="url(#gr)"/>
<circle cx="461.97" cy="67.90" r="3.1" fill="url(#gr)"/>
<circle cx="468.93" cy="69.30" r="3.1" fill="url(#gr)"/>
<circle cx="475.89" cy="70.70" r="3.1" fill="url(#gr)"/>
<circle cx="482.85" cy="70.10" r="3.1" fill="url(#gr)"/>
<circle cx="489.80" cy="70.70" r="3.1" fill="url(#gr)"/>
<circle cx="496.76" cy="70.10" r="3.1" fill="url(#gr)"/>
<circle cx="503.72" cy="69.60" r="3.1" fill="url(#gr)"/>
<circle cx="510.68" cy="67.50" r="3.1" fill="url(#gr)"/>
<circle cx="517.63" cy="67.50" r="3.1" fill="url(#gr)"/>
<circle cx="524.59" cy="68.40" r="3.1" fill="url(#gr)"/>
<circle cx="531.55" cy="68.40" r="3.1" fill="url(#gr)"/>
<circle cx="538.51" cy="68.40" r="3.1" fill="url(#gr)"/>
<circle cx="545.46" cy="68.00" r="3.1" fill="url(#gr)"/>
<circle cx="552.42" cy="68.00" r="3.1" fill="url(#gr)"/>
<circle cx="559.38" cy="68.40" r="3.1" fill="url(#gr)"/>
<circle cx="566.34" cy="68.00" r="3.1" fill="url(#gr)"/>
<circle cx="573.29" cy="68.80" r="3.1" fill="url(#gr)"/>
<circle cx="580.25" cy="68.40" r="3.1" fill="url(#gr)"/>
<circle cx="587.21" cy="68.00" r="3.1" fill="url(#gr)"/>
<circle cx="594.17" cy="69.40" r="3.1" fill="url(#gr)"/>
<circle cx="601.12" cy="68.00" r="3.1" fill="url(#gr)"/>
<circle cx="608.08" cy="67.60" r="3.1" fill="url(#gr)"/>
<circle cx="615.04" cy="69.40" r="3.1" fill="url(#gr)"/>
<circle cx="622.00" cy="68.80" r="3.1" fill="url(#gr)"/>
<circle cx="628.95" cy="68.00" r="3.1" fill="url(#gr)"/>
<circle cx="635.91" cy="67.60" r="3.1" fill="url(#gr)"/>
<circle cx="642.87" cy="68.00" r="3.1" fill="url(#gr)"/>
<circle cx="649.83" cy="68.80" r="3.1" fill="url(#gr)"/>
<circle cx="656.78" cy="69.40" r="3.1" fill="url(#gr)"/>
<circle cx="663.74" cy="69.40" r="3.1" fill="url(#gr)"/>
<circle cx="670.70" cy="68.00" r="3.1" fill="url(#gr)"/>
<path d="M393.30,250.50 L399.36,143.40 C400.52,134.50 404.00,101.23 406.31,90.00 C408.63,78.77 410.95,78.85 413.27,76.00 C415.59,73.15 417.91,74.73 420.23,72.90 C422.55,71.07 424.87,66.90 427.19,65.00 C429.51,63.10 431.83,62.42 434.14,61.50 C436.46,60.58 438.78,60.17 441.10,59.50 C443.42,58.83 445.74,57.97 448.06,57.50 C450.38,57.03 452.70,57.02 455.02,56.70 C457.34,56.38 459.66,55.55 461.97,55.60 C464.29,55.65 466.61,56.62 468.93,57.00 C471.25,57.38 473.57,57.75 475.89,57.90 C478.21,58.05 480.53,57.75 482.85,57.90 C485.17,58.05 487.49,58.80 489.80,58.80 C492.12,58.80 494.44,57.90 496.76,57.90 C499.08,57.90 501.40,58.60 503.72,58.80 C506.04,59.00 508.36,59.33 510.68,59.10 C513.00,58.87 515.32,57.75 517.63,57.40 C519.95,57.05 522.27,57.00 524.59,57.00 C526.91,57.00 529.23,57.25 531.55,57.40 C533.87,57.55 536.19,57.80 538.51,57.90 C540.83,58.00 543.15,58.23 545.46,58.00 C547.78,57.77 550.10,56.53 552.42,56.50 C554.74,56.47 557.06,57.45 559.38,57.80 C561.70,58.15 564.02,58.47 566.34,58.60 C568.66,58.73 570.98,58.67 573.29,58.60 C575.61,58.53 577.93,58.33 580.25,58.20 C582.57,58.07 584.89,57.97 587.21,57.80 C589.53,57.63 591.85,57.20 594.17,57.20 C596.49,57.20 598.81,57.92 601.12,57.80 C603.44,57.68 605.76,56.37 608.08,56.50 C610.40,56.63 612.72,58.15 615.04,58.60 C617.36,59.05 619.68,59.10 622.00,59.20 C624.32,59.30 626.64,59.37 628.95,59.20 C631.27,59.03 633.59,58.37 635.91,58.20 C638.23,58.03 640.55,58.27 642.87,58.20 C645.19,58.13 647.51,57.80 649.83,57.80 C652.15,57.80 654.47,58.20 656.78,58.20 C659.10,58.20 661.42,57.80 663.74,57.80 C666.06,57.80 669.54,58.13 670.70,58.20" fill="none" stroke="#e070f2" stroke-width="1.1" stroke-linejoin="round"/>
<circle cx="399.36" cy="143.40" r="3.1" fill="url(#gm)"/>
<circle cx="406.31" cy="90.00" r="3.1" fill="url(#gm)"/>
<circle cx="413.27" cy="76.00" r="3.1" fill="url(#gm)"/>
<circle cx="420.23" cy="72.90" r="3.1" fill="url(#gm)"/>
<circle cx="427.19" cy="65.00" r="3.1" fill="url(#gm)"/>
<circle cx="434.14" cy="61.50" r="3.1" fill="url(#gm)"/>
<circle cx="441.10" cy="59.50" r="3.1" fill="url(#gm)"/>
<circle cx="448.06" cy="57.50" r="3.1" fill="url(#gm)"/>
<circle cx="455.02" cy="56.70" r="3.1" fill="url(#gm)"/>
<circle cx="461.97" cy="55.60" r="3.1" fill="url(#gm)"/>
<circle cx="468.93" cy="57.00" r="3.1" fill="url(#gm)"/>
<circle cx="475.89" cy="57.90" r="3.1" fill="url(#gm)"/>
<circle cx="482.85" cy="57.90" r="3.1" fill="url(#gm)"/>
<circle cx="489.80" cy="58.80" r="3.1" fill="url(#gm)"/>
<circle cx="496.76" cy="57.90" r="3.1" fill="url(#gm)"/>
<circle cx="503.72" cy="58.80" r="3.1" fill="url(#gm)"/>
<circle cx="510.68" cy="59.10" r="3.1" fill="url(#gm)"/>
<circle cx="517.63" cy="57.40" r="3.1" fill="url(#gm)"/>
<circle cx="524.59" cy="57.00" r="3.1" fill="url(#gm)"/>
<circle cx="531.55" cy="57.40" r="3.1" fill="url(#gm)"/>
<circle cx="538.51" cy="57.90" r="3.1" fill="url(#gm)"/>
<circle cx="545.46" cy="58.00" r="3.1" fill="url(#gm)"/>
<circle cx="552.42" cy="56.50" r="3.1" fill="url(#gm)"/>
<circle cx="559.38" cy="57.80" r="3.1" fill="url(#gm)"/>
<circle cx="566.34" cy="58.60" r="3.1" fill="url(#gm)"/>
<circle cx="573.29" cy="58.60" r="3.1" fill="url(#gm)"/>
<circle cx="580.25" cy="58.20" r="3.1" fill="url(#gm)"/>
<circle cx="587.21" cy="57.80" r="3.1" fill="url(#gm)"/>
<circle cx="594.17" cy="57.20" r="3.1" fill="url(#gm)"/>
<circle cx="601.12" cy="57.80" r="3.1" fill="url(#gm)"/>
<circle cx="608.08" cy="56.50" r="3.1" fill="url(#gm)"/>
<circle cx="615.04" cy="58.60" r="3.1" fill="url(#gm)"/>
<circle cx="622.00" cy="59.20" r="3.1" fill="url(#gm)"/>
<circle cx="628.95" cy="59.20" r="3.1" fill="url(#gm)"/>
<circle cx="635.91" cy="58.20" r="3.1" fill="url(#gm)"/>
<circle cx="642.87" cy="58.20" r="3.1" fill="url(#gm)"/>
<circle cx="649.83" cy="57.80" r="3.1" fill="url(#gm)"/>
<circle cx="656.78" cy="58.20" r="3.1" fill="url(#gm)"/>
<circle cx="663.74" cy="57.80" r="3.1" fill="url(#gm)"/>
<circle cx="670.70" cy="58.20" r="3.1" fill="url(#gm)"/>
<path d="M393.30,250.50 L399.36,117.00 C400.52,110.93 404.00,91.27 406.31,80.60 C408.63,69.93 410.95,59.20 413.27,53.00 C415.59,46.80 417.91,45.47 420.23,43.40 C422.55,41.33 424.87,42.05 427.19,40.60 C429.51,39.15 431.83,36.08 434.14,34.70 C436.46,33.32 438.78,32.85 441.10,32.30 C443.42,31.75 445.74,31.63 448.06,31.40 C450.38,31.17 452.70,30.90 455.02,30.90 C457.34,30.90 459.66,31.52 461.97,31.40 C464.29,31.28 466.61,30.12 468.93,30.20 C471.25,30.28 473.57,31.78 475.89,31.90 C478.21,32.02 480.53,30.98 482.85,30.90 C485.17,30.82 487.49,31.52 489.80,31.40 C492.12,31.28 494.44,30.50 496.76,30.20 C499.08,29.90 501.40,29.32 503.72,29.60 C506.04,29.88 508.36,31.68 510.68,31.90 C513.00,32.12 515.32,30.98 517.63,30.90 C519.95,30.82 522.27,31.32 524.59,31.40 C526.91,31.48 529.23,31.40 531.55,31.40 C533.87,31.40 536.19,31.50 538.51,31.40 C540.83,31.30 543.15,30.72 545.46,30.80 C547.78,30.88 550.10,32.10 552.42,31.90 C554.74,31.70 557.06,29.88 559.38,29.60 C561.70,29.32 564.02,30.20 566.34,30.20 C568.66,30.20 570.98,29.43 573.29,29.60 C575.61,29.77 577.93,31.03 580.25,31.20 C582.57,31.37 584.89,30.83 587.21,30.60 C589.53,30.37 591.85,29.70 594.17,29.80 C596.49,29.90 598.81,31.20 601.12,31.20 C603.44,31.20 605.76,29.90 608.08,29.80 C610.40,29.70 612.72,30.37 615.04,30.60 C617.36,30.83 619.68,31.20 622.00,31.20 C624.32,31.20 626.64,30.87 628.95,30.60 C631.27,30.33 633.59,29.83 635.91,29.60 C638.23,29.37 640.55,29.03 642.87,29.20 C645.19,29.37 647.51,30.37 649.83,30.60 C652.15,30.83 654.47,30.73 656.78,30.60 C659.10,30.47 661.42,29.70 663.74,29.80 C666.06,29.90 669.54,30.97 670.70,31.20" fill="none" stroke="#2a8c2a" stroke-width="1.1" stroke-linejoin="round"/>
<circle cx="399.36" cy="117.00" r="3.1" fill="url(#gg)"/>
<circle cx="406.31" cy="80.60" r="3.1" fill="url(#gg)"/>
<circle cx="413.27" cy="53.00" r="3.1" fill="url(#gg)"/>
<circle cx="420.23" cy="43.40" r="3.1" fill="url(#gg)"/>
<circle cx="427.19" cy="40.60" r="3.1" fill="url(#gg)"/>
<circle cx="434.14" cy="34.70" r="3.1" fill="url(#gg)"/>
<circle cx="441.10" cy="32.30" r="3.1" fill="url(#gg)"/>
<circle cx="448.06" cy="31.40" r="3.1" fill="url(#gg)"/>
<circle cx="455.02" cy="30.90" r="3.1" fill="url(#gg)"/>
<circle cx="461.97" cy="31.40" r="3.1" fill="url(#gg)"/>
<circle cx="468.93" cy="30.20" r="3.1" fill="url(#gg)"/>
<circle cx="475.89" cy="31.90" r="3.1" fill="url(#gg)"/>
<circle cx="482.85" cy="30.90" r="3.1" fill="url(#gg)"/>
<circle cx="489.80" cy="31.40" r="3.1" fill="url(#gg)"/>
<circle cx="496.76" cy="30.20" r="3.1" fill="url(#gg)"/>
<circle cx="503.72" cy="29.60" r="3.1" fill="url(#gg)"/>
<circle cx="510.68" cy="31.90" r="3.1" fill="url(#gg)"/>
<circle cx="517.63" cy="30.90" r="3.1" fill="url(#gg)"/>
<circle cx="524.59" cy="31.40" r="3.1" fill="url(#gg)"/>
<circle cx="531.55" cy="31.40" r="3.1" fill="url(#gg)"/>
<circle cx="538.51" cy="31.40" r="3.1" fill="url(#gg)"/>
<circle cx="545.46" cy="30.80" r="3.1" fill="url(#gg)"/>
<circle cx="552.42" cy="31.90" r="3.1" fill="url(#gg)"/>
<circle cx="559.38" cy="29.60" r="3.1" fill="url(#gg)"/>
<circle cx="566.34" cy="30.20" r="3.1" fill="url(#gg)"/>
<circle cx="573.29" cy="29.60" r="3.1" fill="url(#gg)"/>
<circle cx="580.25" cy="31.20" r="3.1" fill="url(#gg)"/>
<circle cx="587.21" cy="30.60" r="3.1" fill="url(#gg)"/>
<circle cx="594.17" cy="29.80" r="3.1" fill="url(#gg)"/>
<circle cx="601.12" cy="31.20" r="3.1" fill="url(#gg)"/>
<circle cx="608.08" cy="29.80" r="3.1" fill="url(#gg)"/>
<circle cx="615.04" cy="30.60" r="3.1" fill="url(#gg)"/>
<circle cx="622.00" cy="31.20" r="3.1" fill="url(#gg)"/>
<circle cx="628.95" cy="30.60" r="3.1" fill="url(#gg)"/>
<circle cx="635.91" cy="29.60" r="3.1" fill="url(#gg)"/>
<circle cx="642.87" cy="29.20" r="3.1" fill="url(#gg)"/>
<circle cx="649.83" cy="30.60" r="3.1" fill="url(#gg)"/>
<circle cx="656.78" cy="30.60" r="3.1" fill="url(#gg)"/>
<circle cx="663.74" cy="29.80" r="3.1" fill="url(#gg)"/>
<circle cx="670.70" cy="31.20" r="3.1" fill="url(#gg)"/>
<path d="M393.30,250.50 L399.36,118.50 C400.52,113.05 404.00,93.57 406.31,85.80 C408.63,78.03 410.95,75.32 413.27,71.90 C415.59,68.48 417.91,67.18 420.23,65.30 C422.55,63.42 424.87,61.52 427.19,60.60 C429.51,59.68 431.83,60.13 434.14,59.80 C436.46,59.47 438.78,58.92 441.10,58.60 C443.42,58.28 445.74,58.02 448.06,57.90 C450.38,57.78 452.70,57.52 455.02,57.90 C457.34,58.28 459.66,59.42 461.97,60.20 C464.29,60.98 466.61,61.90 468.93,62.60 C471.25,63.30 473.57,64.10 475.89,64.40 C478.21,64.70 480.53,64.40 482.85,64.40 C485.17,64.40 487.49,64.03 489.80,64.40 C492.12,64.77 494.44,66.23 496.76,66.60 C499.08,66.97 501.40,66.22 503.72,66.60 C506.04,66.98 508.36,68.68 510.68,68.90 C513.00,69.12 515.32,67.70 517.63,67.90 C519.95,68.10 522.27,69.73 524.59,70.10 C526.91,70.47 529.23,69.72 531.55,70.10 C533.87,70.48 536.19,72.05 538.51,72.40 C540.83,72.75 543.15,72.02 545.46,72.20 C547.78,72.38 550.10,73.28 552.42,73.50 C554.74,73.72 557.06,73.27 559.38,73.50 C561.70,73.73 564.02,74.90 566.34,74.90 C568.66,74.90 570.98,73.73 573.29,73.50 C575.61,73.27 577.93,73.17 580.25,73.50 C582.57,73.83 584.89,75.17 587.21,75.50 C589.53,75.83 591.85,75.67 594.17,75.50 C596.49,75.33 598.81,74.60 601.12,74.50 C603.44,74.40 605.76,74.73 608.08,74.90 C610.40,75.07 612.72,75.73 615.04,75.50 C617.36,75.27 619.68,73.67 622.00,73.50 C624.32,73.33 626.64,74.17 628.95,74.50 C631.27,74.83 633.59,75.57 635.91,75.50 C638.23,75.43 640.55,74.43 642.87,74.10 C645.19,73.77 647.51,73.43 649.83,73.50 C652.15,73.57 654.47,74.27 656.78,74.50 C659.10,74.73 661.42,75.07 663.74,74.90 C666.06,74.73 669.54,73.73 670.70,73.50" fill="none" stroke="#50b8fa" stroke-width="1.1" stroke-linejoin="round"/>
<circle cx="399.36" cy="118.50" r="3.1" fill="url(#gb)"/>
<circle cx="406.31" cy="85.80" r="3.1" fill="url(#gb)"/>
<circle cx="413.27" cy="71.90" r="3.1" fill="url(#gb)"/>
<circle cx="420.23" cy="65.30" r="3.1" fill="url(#gb)"/>
<circle cx="427.19" cy="60.60" r="3.1" fill="url(#gb)"/>
<circle cx="434.14" cy="59.80" r="3.1" fill="url(#gb)"/>
<circle cx="441.10" cy="58.60" r="3.1" fill="url(#gb)"/>
<circle cx="448.06" cy="57.90" r="3.1" fill="url(#gb)"/>
<circle cx="455.02" cy="57.90" r="3.1" fill="url(#gb)"/>
<circle cx="461.97" cy="60.20" r="3.1" fill="url(#gb)"/>
<circle cx="468.93" cy="62.60" r="3.1" fill="url(#gb)"/>
<circle cx="475.89" cy="64.40" r="3.1" fill="url(#gb)"/>
<circle cx="482.85" cy="64.40" r="3.1" fill="url(#gb)"/>
<circle cx="489.80" cy="64.40" r="3.1" fill="url(#gb)"/>
<circle cx="496.76" cy="66.60" r="3.1" fill="url(#gb)"/>
<circle cx="503.72" cy="66.60" r="3.1" fill="url(#gb)"/>
<circle cx="510.68" cy="68.90" r="3.1" fill="url(#gb)"/>
<circle cx="517.63" cy="67.90" r="3.1" fill="url(#gb)"/>
<circle cx="524.59" cy="70.10" r="3.1" fill="url(#gb)"/>
<circle cx="531.55" cy="70.10" r="3.1" fill="url(#gb)"/>
<circle cx="538.51" cy="72.40" r="3.1" fill="url(#gb)"/>
<circle cx="545.46" cy="72.20" r="3.1" fill="url(#gb)"/>
<circle cx="552.42" cy="73.50" r="3.1" fill="url(#gb)"/>
<circle cx="559.38" cy="73.50" r="3.1" fill="url(#gb)"/>
<circle cx="566.34" cy="74.90" r="3.1" fill="url(#gb)"/>
<circle cx="573.29" cy="73.50" r="3.1" fill="url(#gb)"/>
<circle cx="580.25" cy="73.50" r="3.1" fill="url(#gb)"/>
<circle cx="587.21" cy="75.50" r="3.1" fill="url(#gb)"/>
<circle cx="594.17" cy="75.50" r="3.1" fill="url(#gb)"/>
<circle cx="601.12" cy="74.50" r="3.1" fill="url(#gb)"/>
<circle cx="608.08" cy="74.90" r="3.1" fill="url(#gb)"/>
<circle cx="615.04" cy="75.50" r="3.1" fill="url(#gb)"/>
<circle cx="622.00" cy="73.50" r="3.1" fill="url(#gb)"/>
<circle cx="628.95" cy="74.50" r="3.1" fill="url(#gb)"/>
<circle cx="635.91" cy="75.50" r="3.1" fill="url(#gb)"/>
<circle cx="642.87" cy="74.10" r="3.1" fill="url(#gb)"/>
<circle cx="649.83" cy="73.50" r="3.1" fill="url(#gb)"/>
<circle cx="656.78" cy="74.50" r="3.1" fill="url(#gb)"/>
<circle cx="663.74" cy="74.90" r="3.1" fill="url(#gb)"/>
<circle cx="670.70" cy="73.50" r="3.1" fill="url(#gb)"/>
</g>
<line x1="607.70" y1="122.90" x2="629.70" y2="122.90" stroke="#333333" stroke-width="1.2"/>
<rect x="616.00" y="120.30" width="5.2" height="5.2" fill="#3c3c3c"/>
<text transform="translate(631.20,126.20) scale(0.875,1)" class="lg">AC</text>
<line x1="607.70" y1="134.30" x2="629.70" y2="134.30" stroke="#fb4e50" stroke-width="1.2"/>
<circle cx="618.60" cy="134.30" r="3.1" fill="url(#gr)"/>
<text transform="translate(631.20,137.60) scale(0.875,1)" class="lg">Tit5<tspan font-size="12.3" dy="0.5" dx="0.4">@</tspan><tspan dy="-0.5" dx="-1.5">AC</tspan></text>
<line x1="607.70" y1="145.70" x2="629.70" y2="145.70" stroke="#e070f2" stroke-width="1.2"/>
<circle cx="618.60" cy="145.70" r="3.1" fill="url(#gm)"/>
<text transform="translate(631.20,149.00) scale(0.875,1)" class="lg">Tit10<tspan font-size="12.3" dy="0.5" dx="0.4">@</tspan><tspan dy="-0.5" dx="-1.5">AC</tspan></text>
<line x1="607.70" y1="157.10" x2="629.70" y2="157.10" stroke="#2a8c2a" stroke-width="1.2"/>
<circle cx="618.60" cy="157.10" r="3.1" fill="url(#gg)"/>
<text transform="translate(631.20,160.40) scale(0.875,1)" class="lg">Tit15<tspan font-size="12.3" dy="0.5" dx="0.4">@</tspan><tspan dy="-0.5" dx="-1.5">AC</tspan></text>
<line x1="607.70" y1="168.50" x2="629.70" y2="168.50" stroke="#50b8fa" stroke-width="1.2"/>
<circle cx="618.60" cy="168.50" r="3.1" fill="url(#gb)"/>
<text transform="translate(631.20,171.80) scale(0.875,1)" class="lg">Tit20<tspan font-size="12.3" dy="0.5" dx="0.4">@</tspan><tspan dy="-0.5" dx="-1.5">AC</tspan></text>
</svg>
</body></html>
